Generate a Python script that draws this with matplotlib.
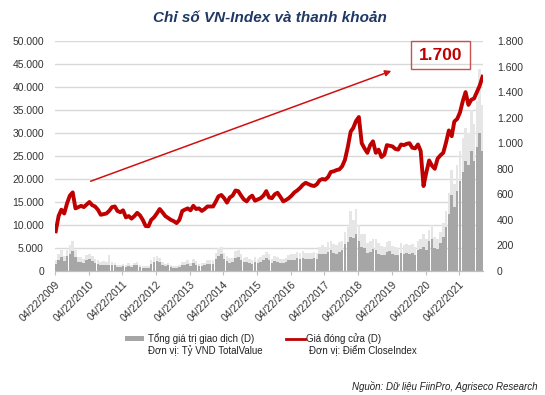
import matplotlib
matplotlib.use("Agg")
import matplotlib.pyplot as plt
from matplotlib.patches import Rectangle
from matplotlib.lines import Line2D
import pandas as pd

plt.rcParams['font.family'] = ['Liberation Sans', 'DejaVu Sans']

# DU LIEU (doc tu hinh, moi thang mot gia tri, 04/2009 - 12/2021)

thang = pd.date_range('2009-04-30', '2021-12-31', freq='ME')

vnindex = [
    311, 430, 480, 450, 530, 590, 615, 490, 500,                 # 2009
    510, 500, 520, 540, 515, 505, 480, 440, 445, 450, 470, 500,  # 2010
    505, 470, 460, 475, 420, 430, 410, 430, 455, 435, 400, 352,  # 2011
    350, 400, 420, 450, 485, 460, 430, 415, 400, 390, 375, 400,  # 2012
    470, 480, 490, 475, 510, 485, 490, 470, 485, 505, 505, 505,  # 2013
    545, 585, 595, 570, 535, 575, 590, 630, 625, 590, 560, 545,  # 2014
    575, 590, 550, 560, 570, 590, 625, 575, 570, 600, 612, 580,  # 2015
    545, 555, 570, 590, 615, 630, 650, 675, 690, 680, 670, 665,  # 2016
    680, 710, 720, 715, 735, 775, 780, 790, 795, 820, 870, 970,  # 2017
    1090, 1120, 1175, 1205, 1000, 960, 925, 985, 1015, 925, 950, 892,  # 2018
    910, 985, 980, 975, 955, 950, 990, 985, 995, 1000, 965, 960,  # 2019
    990, 940, 665, 770, 865, 825, 800, 880, 905, 925, 1005, 1100,  # 2020
    1055, 1170, 1190, 1240, 1330, 1400, 1300, 1340, 1350, 1400, 1450, 1520,  # 2021
]

gia_tri = [
    1.5, 2.5, 3.0, 2.2, 3.2, 3.8, 4.3, 3.0, 2.0,
    2.0, 1.7, 2.4, 2.6, 2.2, 1.8, 1.6, 1.3, 1.4, 1.2, 1.4, 1.2,
    1.2, 0.9, 0.8, 1.0, 0.9, 1.1, 0.8, 1.2, 1.3, 0.9, 0.7, 0.6,
    0.7, 1.5, 2.0, 2.2, 1.9, 1.3, 1.0, 1.2, 0.8, 0.7, 0.6, 0.9,
    1.3, 1.2, 1.5, 1.1, 1.8, 1.4, 1.0, 1.1, 1.2, 1.5, 1.6, 1.6,
    2.6, 3.2, 3.6, 2.6, 2.2, 1.8, 1.9, 2.9, 3.0, 2.5, 1.9, 2.0,
    1.8, 1.6, 2.0, 1.7, 2.0, 2.3, 2.8, 2.4, 1.8, 2.2, 2.0, 1.7,
    1.8, 1.9, 2.3, 2.4, 2.4, 2.8, 2.6, 2.9, 2.7, 2.6, 2.6, 2.8,
    2.6, 3.6, 3.8, 3.6, 4.2, 4.5, 4.0, 3.8, 4.2, 4.5, 5.8, 6.3,
    7.5, 7.2, 8.0, 6.5, 5.2, 5.0, 3.9, 4.2, 4.8, 4.5, 3.8, 3.5,
    3.4, 4.2, 4.4, 3.6, 3.5, 3.4, 4.0, 3.8, 3.9, 3.7, 3.9, 3.5,
    4.5, 4.8, 5.2, 4.6, 6.5, 7.0, 5.0, 4.8, 6.0, 7.5, 9.5, 12.5,
    16.5, 14.0, 17.5, 19.5, 21.5, 24.0, 23.0, 26.0, 24.0, 27.0, 30.0, 26.0,
]

gia_tri_dinh = [
    2.5, 3.8, 4.5, 3.3, 4.6, 5.6, 6.5, 4.5, 3.0,
    3.0, 2.6, 3.5, 3.8, 3.2, 2.7, 2.4, 2.0, 2.2, 1.9, 3.4, 1.9,
    1.8, 1.4, 1.3, 1.6, 1.4, 1.7, 1.3, 1.8, 2.0, 1.4, 1.1, 1.0,
    1.1, 2.3, 3.0, 3.2, 2.8, 2.0, 1.6, 1.8, 1.3, 1.1, 1.0, 1.4,
    2.0, 1.9, 2.3, 1.7, 2.7, 2.1, 1.6, 1.7, 1.8, 2.3, 2.4, 2.4,
    3.9, 4.9, 5.2, 3.9, 3.3, 2.8, 2.9, 4.3, 4.5, 3.8, 2.9, 3.0,
    2.7, 2.4, 3.0, 2.6, 3.0, 3.4, 4.2, 3.6, 2.7, 3.3, 3.0, 2.6,
    2.7, 2.8, 3.4, 3.6, 3.6, 4.2, 3.9, 4.3, 4.0, 3.9, 3.9, 4.2,
    3.9, 5.3, 5.6, 5.3, 6.2, 6.6, 5.9, 5.6, 6.2, 6.6, 8.5, 9.5,
    13.0, 11.0, 13.5, 10.0, 8.0, 8.0, 6.0, 6.5, 7.0, 7.0, 6.0, 5.5,
    5.2, 6.3, 6.6, 5.4, 5.3, 5.1, 6.0, 5.7, 5.8, 5.6, 5.8, 5.3,
    6.5, 7.0, 8.0, 7.0, 9.0, 10.0, 7.5, 7.0, 8.5, 10.5, 13.0, 17.0,
    22.0, 19.0, 23.0, 26.0, 29.0, 31.0, 30.0, 35.0, 32.0, 37.0, 44.0, 36.0,
]

nhan_x = [f"04/22/{nam}" for nam in range(2009, 2022)]
ngay_x = [pd.Timestamp(f"{nam}-04-22") for nam in range(2009, 2022)]

# GRAFICO

W, H = 545, 395
fig = plt.figure(figsize=(W / 100, H / 100), dpi=100)
ax = fig.add_axes([55 / W, 1 - 271 / H, (483 - 55) / W, (271 - 41) / H])
ax2 = ax.twinx()

ax.bar(thang, [v * 1000 for v in gia_tri_dinh], width=28, color='#e6e6e6', linewidth=0)
ax.bar(thang, [v * 1000 for v in gia_tri], width=28, color='#a6a6a6', linewidth=0)
ax2.plot(thang, vnindex, color='#c00000', lw=2.8, solid_joinstyle='round')

ax.set_ylim(0, 50000)
ax2.set_ylim(0, 1800)
ax.set_xlim(pd.Timestamp('2009-04-22'), pd.Timestamp('2022-01-05'))

ax.set_yticks(range(0, 50001, 5000))
ax.set_yticklabels([f"{v:,}".replace(',', '.') for v in range(0, 50001, 5000)])
ax2.set_yticks(range(0, 1801, 200))
ax2.set_yticklabels([f"{v:,}".replace(',', '.') for v in range(0, 1801, 200)])

ax.set_xticks(ngay_x)
ax.set_xticklabels(nhan_x, rotation=45, ha='right', rotation_mode='anchor')

ax.grid(axis='y', color='#d9d9d9', lw=1)
ax.set_axisbelow(True)
for a in (ax, ax2):
    for s in ('top', 'left', 'right'):
        a.spines[s].set_visible(False)
    a.spines['bottom'].set_color('#bfbfbf')
    a.tick_params(axis='y', length=0, labelsize=7.5, labelcolor='#333333', pad=8)
ax.tick_params(axis='x', length=3, color='#bfbfbf', labelsize=7.5, labelcolor='#333333', pad=3)
ax2.tick_params(axis='y', pad=10)

# MUI TEN VA O 1.700
ax.annotate('', xy=(pd.Timestamp('2019-05-15'), 43700), xytext=(pd.Timestamp('2010-04-15'), 19300),
            arrowprops=dict(arrowstyle='-|>', color='#d01010', lw=1.1, mutation_scale=9))

fig.add_artist(Rectangle((411 / W, 1 - 69 / H), 59 / W, 27.5 / H, transform=fig.transFigure,
                         fill=False, edgecolor='#c9524f', lw=1))
fig.text(440.5 / W, 1 - 56 / H, '1.700', color='#c00000', fontsize=12.5, fontweight='bold',
         ha='center', va='center')

# TITULO
fig.text(270 / W, 1 - 18 / H, 'Chỉ số VN-Index và thanh khoản', color='#1f3864', fontsize=11,
         fontweight='bold', fontstyle='italic', ha='center', va='center')

# LEYENDA
fig.add_artist(Rectangle((125 / W, 1 - 340.5 / H), 19 / W, 4.5 / H, transform=fig.transFigure,
                         color='#a6a6a6', lw=0))
fig.add_artist(Line2D([286 / W, 305 / W], [1 - 338.5 / H] * 2, transform=fig.transFigure,
                      color='#c00000', lw=2))
fig.text(147.5 / W, 1 - 338.5 / H, 'Tổng giá trị giao dịch (D)', fontsize=7, color='#222222', va='center')
fig.text(147.5 / W, 1 - 351 / H, 'Đơn vị: Tỷ VND TotalValue', fontsize=7, color='#222222', va='center')
fig.text(306.5 / W, 1 - 338.5 / H, 'Giá đóng cửa (D)', fontsize=7, color='#222222', va='center')
fig.text(309 / W, 1 - 351 / H, 'Đơn vị: Điểm CloseIndex', fontsize=7, color='#222222', va='center')

fig.text(537 / W, 1 - 387 / H, 'Nguồn: Dữ liệu FiinPro, Agriseco Research', fontsize=7,
         fontstyle='italic', color='#222222', ha='right', va='center')

fig.savefig('out.png', dpi=100)
